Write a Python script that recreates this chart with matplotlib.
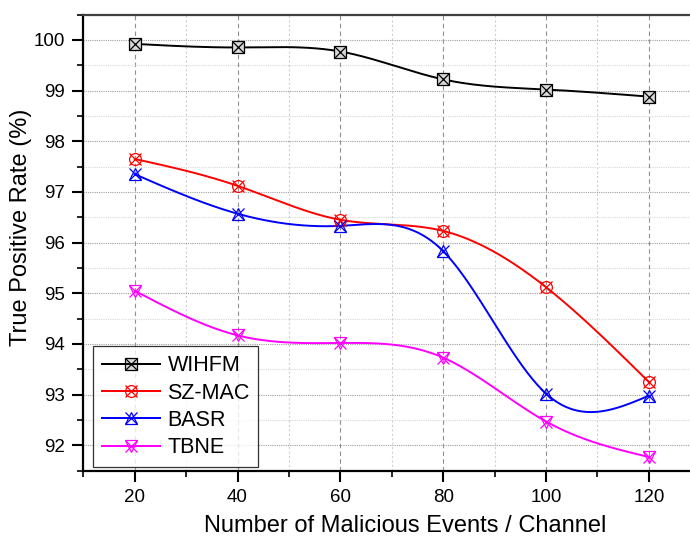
import matplotlib
matplotlib.use("Agg")
import matplotlib.pyplot as plt
import numpy as np
from matplotlib.ticker import MultipleLocator

plt.rcParams["font.family"] = ["Liberation Sans", "DejaVu Sans"]

events = [20, 40, 60, 80, 100, 120]
wihfm = [99.92, 99.85, 99.77, 99.22, 99.02, 98.88]
szmac = [97.65, 97.12, 96.45, 96.23, 95.12, 93.25]
basr = [97.35, 96.57, 96.33, 95.83, 93.02, 92.98]
tbne = [95.05, 94.17, 94.02, 93.73, 92.47, 91.77]

SERIES = [
    ("WIHFM", wihfm, "black", ["s", "x"]),
    ("SZ-MAC", szmac, "red", ["o", "x"]),
    ("BASR", basr, "blue", ["^", "x"]),
    ("TBNE", tbne, "magenta", ["v", "x"]),
]


def spline_curve(x, y, n=200):
    # natural cubic spline, only used to draw the smooth connecting line
    x = np.asarray(x, float)
    y = np.asarray(y, float)
    h = np.diff(x)
    k = len(x)
    A = np.zeros((k, k))
    b = np.zeros(k)
    A[0, 0] = A[-1, -1] = 1.0
    for i in range(1, k - 1):
        A[i, i - 1] = h[i - 1]
        A[i, i] = 2 * (h[i - 1] + h[i])
        A[i, i + 1] = h[i]
        b[i] = 6 * ((y[i + 1] - y[i]) / h[i] - (y[i] - y[i - 1]) / h[i - 1])
    m = np.linalg.solve(A, b)
    xs = np.linspace(x[0], x[-1], n)
    idx = np.clip(np.searchsorted(x, xs) - 1, 0, k - 2)
    x0, x1 = x[idx], x[idx + 1]
    hh = x1 - x0
    t0, t1 = x1 - xs, xs - x0
    ys = (m[idx] * t0 ** 3 / (6 * hh) + m[idx + 1] * t1 ** 3 / (6 * hh)
          + (y[idx] / hh - m[idx] * hh / 6) * t0
          + (y[idx + 1] / hh - m[idx + 1] * hh / 6) * t1)
    return xs, ys


fig = plt.figure(figsize=(6.9, 5.39), dpi=100)
ax = fig.add_axes([83.3 / 690, 1 - 470.7 / 539, 617 / 690, 456.2 / 539])

handles = []
for name, vals, color, markers in SERIES:
    xs, ys = spline_curve(events, vals)
    ax.plot(xs, ys, color=color, lw=1.4, zorder=3)
    face = "#d8d8d8" if name == "WIHFM" else "none"
    ax.plot(events, vals, ls="none", marker=markers[0], ms=8.5,
            mfc=face, mec=color, mew=0.9, zorder=4)
    ax.plot(events, vals, ls="none", marker=markers[1], ms=8.5,
            mec=color, mew=0.9, zorder=5)
    h1, = ax.plot([], [], color=color, lw=1.4, marker=markers[0], ms=8.5,
                  mfc=face, mec=color, mew=0.9)
    h2, = ax.plot([], [], color=color, lw=1.4, marker=markers[1], ms=8.5,
                  mec=color, mew=0.9)
    handles.append((h1, h2))

ax.set_xlim(10, 130)
ax.set_ylim(91.5, 100.5)
ax.xaxis.set_major_locator(MultipleLocator(20))
ax.xaxis.set_minor_locator(MultipleLocator(10))
ax.yaxis.set_major_locator(MultipleLocator(1))
ax.yaxis.set_minor_locator(MultipleLocator(0.5))

ax.grid(which="major", axis="x", color="#909090", ls=(0, (4, 3)), lw=0.8)
ax.grid(which="minor", axis="x", color="#d0d0d0", ls=(0, (2, 2)), lw=0.8)
ax.grid(which="major", axis="y", color="#a0a0a0", ls=(0, (1, 1)), lw=0.8)
ax.grid(which="minor", axis="y", color="#d8d8d8", ls=(0, (1, 1)), lw=0.8)
ax.set_axisbelow(True)

for side in ["left", "bottom", "top", "right"]:
    ax.spines[side].set_linewidth(1.6)
ax.spines["top"].set_color("#404040")

ax.tick_params(which="major", direction="out", length=8, width=1.5,
               labelsize=13.5, pad=5)
ax.tick_params(which="minor", direction="out", length=4, width=1.2)

ax.set_xlabel("Number of Malicious Events / Channel", fontsize=17)
ax.set_ylabel("True Positive Rate (%)", fontsize=17)
ax.xaxis.set_label_coords(0.521, -0.097)
ax.yaxis.set_label_coords(-0.083, 0.534)

leg = ax.legend(handles, [s[0] for s in SERIES], loc="lower left",
                bbox_to_anchor=(0.016, 0.008), fontsize=15.5, frameon=True,
                fancybox=False, edgecolor="black", handlelength=2.7,
                borderpad=0.4, labelspacing=0.3, handletextpad=0.35,
                borderaxespad=0)
leg.get_frame().set_linewidth(0.9)

fig.savefig("out.png", dpi=100)
